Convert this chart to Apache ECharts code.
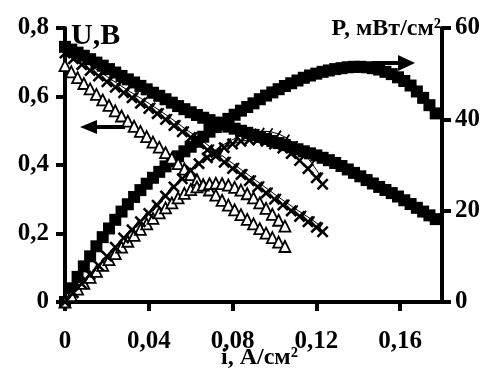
<!DOCTYPE html>
<html>
<head>
<meta charset="utf-8">
<script src="https://cdn.jsdelivr.net/npm/echarts@6/dist/echarts.min.js"></script>
<style>
	html, body { margin: 0; padding: 0; background: #fff; }
	#chart { width: 491px; height: 369px; }
</style>
</head>
<body>
<div id="chart"></div>
<script>
// current density, A/cm2, and voltage (V) / power (mW/cm2) per sample
var iSq = [0, 0.003, 0.006, 0.009, 0.012, 0.015, 0.018, 0.021, 0.024, 0.027, 0.03, 0.033, 0.036, 0.039, 0.042, 0.045, 0.048, 0.051, 0.054, 0.057, 0.06, 0.063, 0.066, 0.069, 0.072, 0.075, 0.078, 0.081, 0.084, 0.087, 0.09, 0.093, 0.096, 0.099, 0.102, 0.105, 0.108, 0.111, 0.114, 0.117, 0.12, 0.123, 0.126, 0.129, 0.132, 0.135, 0.138, 0.141, 0.144, 0.147, 0.15, 0.153, 0.156, 0.159, 0.162, 0.165, 0.168, 0.171, 0.174, 0.177];
var uSq = [0.745, 0.737, 0.728, 0.719, 0.709, 0.699, 0.69, 0.68, 0.67, 0.66, 0.65, 0.641, 0.631, 0.621, 0.611, 0.602, 0.592, 0.582, 0.572, 0.563, 0.554, 0.546, 0.538, 0.531, 0.524, 0.518, 0.512, 0.506, 0.5, 0.494, 0.488, 0.482, 0.476, 0.47, 0.464, 0.458, 0.452, 0.446, 0.44, 0.434, 0.428, 0.421, 0.414, 0.406, 0.397, 0.387, 0.377, 0.367, 0.356, 0.346, 0.336, 0.327, 0.318, 0.308, 0.297, 0.286, 0.275, 0.264, 0.253, 0.242];
var pSq = [0, 3, 5.5, 7.8, 10, 12.2, 14.2, 16.1, 18, 19.8, 21.4, 23, 24.5, 25.9, 27.2, 28.5, 29.7, 30.8, 31.9, 33, 34, 35.1, 36.2, 37.3, 38.3, 39.2, 40.1, 41, 41.9, 42.7, 43.5, 44.4, 45.2, 45.9, 46.6, 47.3, 47.9, 48.5, 49.1, 49.6, 50, 50.4, 50.7, 51, 51.2, 51.4, 51.5, 51.5, 51.4, 51.2, 50.9, 50.4, 49.9, 49.2, 48.4, 47.4, 46.1, 44.7, 43.1, 41.3];

var iX = [0, 0.004, 0.008, 0.012, 0.016, 0.02, 0.024, 0.028, 0.032, 0.036, 0.04, 0.044, 0.048, 0.052, 0.056, 0.06, 0.064, 0.068, 0.072, 0.076, 0.08, 0.084, 0.088, 0.092, 0.096, 0.1, 0.104, 0.108, 0.112, 0.116, 0.12, 0.123];
var uX = [0.727, 0.71, 0.693, 0.676, 0.66, 0.643, 0.627, 0.611, 0.596, 0.58, 0.565, 0.55, 0.533, 0.515, 0.497, 0.48, 0.462, 0.444, 0.426, 0.408, 0.39, 0.372, 0.354, 0.336, 0.318, 0.3, 0.283, 0.266, 0.25, 0.234, 0.218, 0.205];
var pX = [0, 2, 4, 6, 8, 10, 12, 14, 15.8, 17.6, 19.4, 21.2, 23.2, 25.2, 27, 28.8, 30.3, 31.6, 32.8, 33.8, 34.6, 35.2, 35.5, 35.5, 35.2, 34.6, 33.7, 32.5, 31, 29.2, 27.2, 25.8];

var iDash = [0.002, 0.006, 0.01, 0.014, 0.018, 0.022, 0.026, 0.03, 0.034, 0.038, 0.042, 0.046, 0.05, 0.054, 0.058, 0.062, 0.066, 0.07, 0.074, 0.078, 0.082, 0.086, 0.09, 0.094, 0.098, 0.102, 0.106, 0.11, 0.114, 0.118, 0.122];
var uDash = [0.734, 0.717, 0.7, 0.683, 0.667, 0.65, 0.634, 0.618, 0.603, 0.588, 0.572, 0.556, 0.539, 0.521, 0.503, 0.486, 0.468, 0.45, 0.432, 0.414, 0.396, 0.378, 0.36, 0.342, 0.324, 0.306, 0.289, 0.272, 0.256, 0.24, 0.222];
var pDash = [1, 3, 5, 7, 9, 11, 13, 15, 16.9, 18.8, 20.7, 22.6, 24.5, 26.3, 28.1, 29.8, 31.3, 32.7, 34, 35.1, 36, 36.7, 37.2, 37.4, 37.3, 36.8, 35.9, 34.5, 32.6, 30.3, 27.6];

var iTri = [0, 0.003, 0.006, 0.009, 0.012, 0.015, 0.018, 0.021, 0.024, 0.027, 0.03, 0.033, 0.036, 0.039, 0.042, 0.045, 0.048, 0.051, 0.054, 0.057, 0.06, 0.063, 0.066, 0.069, 0.072, 0.075, 0.078, 0.081, 0.084, 0.087, 0.09, 0.093, 0.096, 0.099, 0.102, 0.105];
var uTri = [0.69, 0.672, 0.655, 0.638, 0.622, 0.606, 0.59, 0.574, 0.558, 0.543, 0.528, 0.513, 0.498, 0.483, 0.467, 0.452, 0.436, 0.42, 0.404, 0.388, 0.372, 0.357, 0.342, 0.327, 0.312, 0.297, 0.283, 0.269, 0.255, 0.241, 0.228, 0.214, 0.201, 0.188, 0.175, 0.162];
var pTri = [0, 1.4, 2.8, 4.1, 5.4, 6.7, 8, 9.3, 10.6, 12, 13.3, 14.6, 15.9, 17.1, 18.3, 19.5, 20.6, 21.7, 22.8, 23.8, 24.6, 25.2, 25.6, 25.9, 26, 25.9, 25.6, 25.1, 24.5, 23.7, 22.8, 21.7, 20.5, 19.2, 17.9, 16.6];

var xTicks = [0, 0.04, 0.08, 0.12, 0.16];

var FONT = '"Liberation Serif", "Times New Roman", serif';
var X_MARK = 'path://M0,3L3,0L10,7L17,0L20,3L13,10L20,17L17,20L10,13L3,20L0,17L7,10Z';
var DASH_MARK = 'path://M0,9L7,0L9,1.6L2,10.6Z';

function pairs(xs, ys) {
	return xs.map(function(x, k) { return [x, ys[k]]; });
}

function comma(v) {
	return String(v).replace('.', ',');
}

var myChart = echarts.init(document.getElementById('chart'), null, { renderer: 'canvas' });

var axisLine = { show: true, lineStyle: { color: '#000', width: 4 } };
var axisTick = { show: true, length: 9, lineStyle: { color: '#000', width: 4 } };
var labelStyle = { color: '#000', fontFamily: FONT, fontWeight: 'bold', fontSize: 25 };
var squareStyle = { color: '#000', opacity: 1 };
var triStyle = { color: '#fff', borderColor: '#000', borderWidth: 1.8, opacity: 1 };

var option = {
	animation: false,
	backgroundColor: '#fff',
	grid: { left: 65, right: 49, top: 28, bottom: 67 },
	xAxis: {
		type: 'value',
		min: 0,
		max: 0.18,
		interval: 0.04,
		axisLine: axisLine,
		axisTick: axisTick,
		splitLine: { show: false },
		axisLabel: Object.assign({}, labelStyle, {
			margin: 27,
			showMaxLabel: false,
			formatter: function(v) {
				for (var k = 0; k < xTicks.length; k++) {
					if (Math.abs(v - xTicks[k]) < 1e-6) {
						return xTicks[k] === 0 ? '0' : comma(xTicks[k].toFixed(2));
					}
				}
				return '';
			}
		})
	},
	yAxis: [{
		type: 'value',
		min: 0,
		max: 0.8,
		interval: 0.2,
		axisLine: axisLine,
		axisTick: axisTick,
		splitLine: { show: false },
		axisLabel: Object.assign({}, labelStyle, {
			margin: 16,
			formatter: function(v) { return comma(+v.toFixed(1)); }
		})
	}, {
		type: 'value',
		position: 'right',
		min: 0,
		max: 60,
		interval: 20,
		axisLine: axisLine,
		axisTick: axisTick,
		splitLine: { show: false },
		axisLabel: Object.assign({}, labelStyle, { margin: 13 })
	}],
	graphic: [
		{ type: 'text', left: 71, top: 21, style: { text: 'U,B', font: 'bold 30px ' + FONT, fill: '#000' } },
		{ type: 'text', right: 50, top: 17, style: { text: 'P, мВт/см²', font: 'bold 24px ' + FONT, fill: '#000' } },
		{ type: 'text', left: 221, top: 346, style: { text: 'i, A/см²', font: 'bold 24px ' + FONT, fill: '#000' } },
		// arrow to the left axis
		{ type: 'line', shape: { x1: 94, y1: 127, x2: 125, y2: 127 }, style: { stroke: '#000', lineWidth: 4 } },
		{ type: 'polygon', shape: { points: [[80, 127], [97, 120], [97, 134]] }, style: { fill: '#000' } },
		// arrow to the right axis
		{ type: 'line', shape: { x1: 372, y1: 63, x2: 401, y2: 63 }, style: { stroke: '#000', lineWidth: 4 } },
		{ type: 'polygon', shape: { points: [[415, 63], [398, 55], [398, 71]] }, style: { fill: '#000' } }
	],
	series: [
		{
			name: 'U sq', type: 'scatter', yAxisIndex: 0,
			symbol: 'rect', symbolSize: 12,
			itemStyle: squareStyle,
			data: pairs(iSq, uSq)
		},
		{
			name: 'P sq', type: 'scatter', yAxisIndex: 1,
			symbol: 'rect', symbolSize: 12,
			itemStyle: squareStyle,
			data: pairs(iSq, pSq)
		},
		{
			name: 'U tri', type: 'scatter', yAxisIndex: 0,
			symbol: 'triangle', symbolSize: 11,
			itemStyle: triStyle,
			data: pairs(iTri, uTri)
		},
		{
			name: 'P tri', type: 'scatter', yAxisIndex: 1,
			symbol: 'triangle', symbolSize: 11,
			itemStyle: triStyle,
			data: pairs(iTri, pTri)
		},
		{
			name: 'U dash', type: 'line', yAxisIndex: 0,
			symbol: DASH_MARK, symbolSize: [6, 8],
			lineStyle: { color: '#000', width: 1 },
			itemStyle: { color: '#000', borderWidth: 0 },
			data: pairs(iDash, uDash)
		},
		{
			name: 'P dash', type: 'line', yAxisIndex: 1,
			symbol: DASH_MARK, symbolSize: [6, 8],
			lineStyle: { color: '#000', width: 1 },
			itemStyle: { color: '#000', borderWidth: 0 },
			data: pairs(iDash, pDash)
		},
		{
			name: 'U x', type: 'line', yAxisIndex: 0,
			symbol: X_MARK, symbolSize: 12,
			lineStyle: { color: '#000', width: 1.2 },
			itemStyle: { color: '#000', borderWidth: 0 },
			data: pairs(iX, uX)
		},
		{
			name: 'P x', type: 'line', yAxisIndex: 1,
			symbol: X_MARK, symbolSize: 12,
			lineStyle: { color: '#000', width: 1.2 },
			itemStyle: { color: '#000', borderWidth: 0 },
			data: pairs(iX, pX)
		}
	]
};

myChart.setOption(option);
</script>
</body>
</html>
